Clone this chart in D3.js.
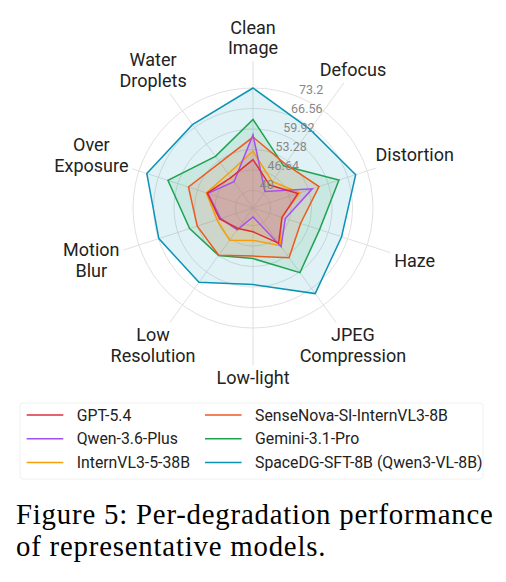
<!DOCTYPE html>
<html>
<head>
<meta charset="utf-8">
<script src="https://cdn.jsdelivr.net/npm/d3@7"></script>
<style>
body { margin: 0; background: #fff; }
svg { display: block; }
.grid { fill: none; stroke: #dcdcdc; stroke-width: 0.9; }
.spoke { stroke: #dcdcdc; stroke-width: 0.9; }
.tick-label { font-family: Roboto, sans-serif; font-size: 12.5px; fill: #888; }
.axis-label { font-family: Roboto, sans-serif; font-size: 18px; fill: #222; }
.legend text { font-family: Roboto, sans-serif; font-size: 15.8px; fill: #222; }
.caption { font-family: "Liberation Serif", "Times New Roman", serif; font-size: 28.8px; letter-spacing: 0.8px; fill: #000; }
</style>
</head>
<body>
<svg width="506" height="582"></svg>
<script>
// categories, clockwise from the top
var categories = ["Clean\nImage", "Defocus", "Distortion", "Haze", "JPEG\nCompression",
  "Low-light", "Low\nResolution", "Motion\nBlur", "Over\nExposure", "Water\nDroplets"];
var tickValues = [40, 46.64, 53.28, 59.92, 66.56, 73.2];
var tickLabels = ["40", "46.64", "53.28", "59.92", "66.56", "73.2"];

var seriesNames = ["GPT-5.4", "Qwen-3.6-Plus", "InternVL3-5-38B",
  "SenseNova-SI-InternVL3-8B", "Gemini-3.1-Pro", "SpaceDG-SFT-8B (Qwen3-VL-8B)"];

var gpt54     = [50.0, 43.5, 49.6, 44.2, 48.4, 42.0, 42.5, 45.7, 49.9, 46.5];
var qwen36    = [58.0, 40.9, 54.5, 45.3, 49.8, 37.2, 43.0, 45.3, 49.7, 44.8];
var internvl  = [52.7, 44.9, 50.3, 44.0, 49.4, 44.8, 47.2, 46.6, 50.2, 48.0];
var sensenova = [57.3, 52.0, 56.8, 50.5, 54.2, 49.9, 53.2, 53.3, 56.3, 52.5];
var gemini    = [63.0, 51.2, 63.6, 57.0, 60.2, 50.7, 53.3, 55.9, 63.3, 55.0];
var spacedg   = [73.2, 65.8, 69.3, 64.5, 68.6, 59.1, 64.1, 66.4, 70.5, 67.7];

var seriesValues = [gpt54, qwen36, internvl, sensenova, gemini, spacedg];
var seriesColors = ["#dc2f3c", "#a34ff2", "#f5a00b", "#ec5a1e", "#1fa352", "#0b93b5"];

var svg = d3.select("svg");
svg.append("rect").attr("width", 506).attr("height", 582).attr("fill", "#fff");

var cx = 253, cy = 208;
var plot = svg.append("g").attr("transform", "translate(" + cx + "," + cy + ")");

var r = d3.scaleLinear().domain([34.3, 73.2]).range([0, 120]);
var angle = d3.scaleLinear().domain([0, categories.length]).range([0, 2 * Math.PI]);

// grid circles
plot.selectAll("circle.grid")
  .data(tickValues)
  .enter().append("circle")
  .attr("class", "grid")
  .attr("r", function(d) { return r(d); });

// axis labels (drawn first so spokes can stop at them)
var labelR = 170;
var labels = plot.selectAll("text.axis-label")
  .data(categories)
  .enter().append("text")
  .attr("class", "axis-label")
  .attr("text-anchor", "middle")
  .attr("x", function(d, i) { return labelR * Math.sin(angle(i)); })
  .attr("y", function(d, i) { return -labelR * Math.cos(angle(i)); });

labels.each(function(d) {
  var lines = d.split("\n");
  var t = d3.select(this);
  var x = t.attr("x");
  lines.forEach(function(line, k) {
    t.append("tspan")
      .attr("x", x)
      .attr("dy", k === 0 ? ((-(lines.length - 1) * 20.7 / 2) + 6) + "px" : "20.7px")
      .text(line);
  });
});

// spokes, stopping short of the labels
labels.each(function(d, i) {
  var box = this.getBBox();
  var a = angle(i);
  var dx = Math.sin(a), dy = -Math.cos(a);
  var tx = Math.abs(dx) > 1e-6 ? (box.width / 2 + 4) / Math.abs(dx) : Infinity;
  var ty = Math.abs(dy) > 1e-6 ? (box.height / 2 + 2) / Math.abs(dy) : Infinity;
  var end = labelR - Math.min(tx, ty);
  plot.insert("line", "text")
    .attr("class", "spoke")
    .attr("x1", 0).attr("y1", 0)
    .attr("x2", end * dx).attr("y2", end * dy);
});

// series polygons
var radar = d3.lineRadial()
  .angle(function(d, i) { return angle(i); })
  .radius(function(d) { return r(d); })
  .curve(d3.curveLinearClosed);

var order = [5, 4, 3, 2, 1, 0];
plot.selectAll("path.area")
  .data(order)
  .enter().append("path")
  .attr("d", function(k) { return radar(seriesValues[k]); })
  .attr("fill", function(k) { return seriesColors[k]; })
  .attr("fill-opacity", 0.12)
  .attr("stroke", "none");

plot.selectAll("path.series")
  .data(order)
  .enter().append("path")
  .attr("d", function(k) { return radar(seriesValues[k]); })
  .attr("fill", "none")
  .attr("stroke", function(k) { return seriesColors[k]; })
  .attr("stroke-width", 1.5)
  .attr("stroke-linejoin", "miter");

// radial tick labels, along 22.5 degrees
var tickAngle = Math.PI / 8;
plot.selectAll("text.tick-label")
  .data(tickValues)
  .enter().append("text")
  .attr("class", "tick-label")
  .attr("x", function(d) { return r(d) * Math.sin(tickAngle); })
  .attr("y", function(d) { return -r(d) * Math.cos(tickAngle) - 3; })
  .text(function(d, i) { return tickLabels[i]; });

// legend
var legend = svg.append("g").attr("class", "legend");
legend.append("rect")
  .attr("x", 20).attr("y", 403)
  .attr("width", 463).attr("height", 76)
  .attr("rx", 3)
  .attr("fill", "#fff")
  .attr("stroke", "#f0f0f0");

var items = legend.selectAll("g.item")
  .data(seriesNames)
  .enter().append("g")
  .attr("transform", function(d, i) {
    var col = Math.floor(i / 3), row = i % 3;
    return "translate(" + (26.7 + col * 178.3) + "," + (415 + row * 23.7) + ")";
  });

items.append("line")
  .attr("x1", 0).attr("x2", 36.6)
  .attr("stroke", function(d, i) { return seriesColors[i]; })
  .attr("stroke-width", 1.5);

items.append("text")
  .attr("x", 50)
  .attr("dy", "0.36em")
  .text(function(d) { return d; });

// caption
svg.append("text")
  .attr("class", "caption")
  .attr("x", 16).attr("y", 524)
  .text("Figure 5: Per-degradation performance");
svg.append("text")
  .attr("class", "caption")
  .attr("x", 16).attr("y", 556)
  .text("of representative models.");
</script>
</body>
</html>
